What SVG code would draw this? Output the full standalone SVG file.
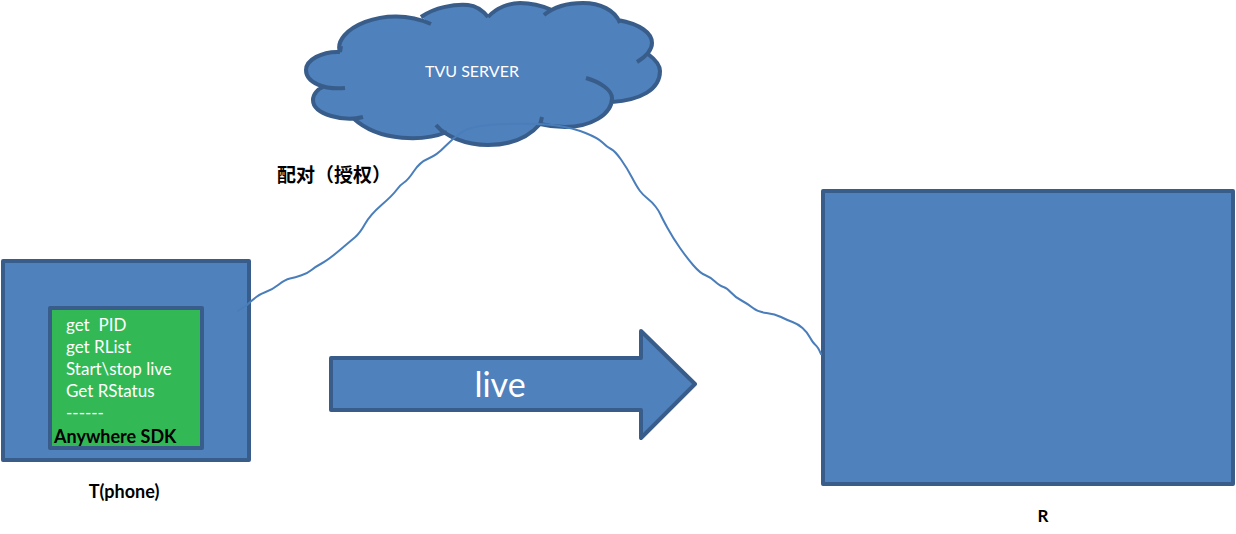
<svg xmlns="http://www.w3.org/2000/svg" width="1236" height="534" viewBox="0 0 1236 534">
<style>
.shape{fill:#4f81bd;stroke:#385d8a;stroke-width:4;stroke-linejoin:round}
.detail{fill:none;stroke:#385d8a;stroke-width:4}
.link{fill:none;stroke:#4a7ebb;stroke-width:2;stroke-linejoin:round;stroke-linecap:round}
text{font-family:Lato,"Open Sans","Liberation Sans",sans-serif}
.w{fill:#fff;font-size:17px;white-space:pre}
.b{fill:#000;font-weight:700;font-size:18px}
</style>
<rect width="1236" height="534" fill="#fff"/>
<g id="cloud">
<path fill="#4f81bd" d="M340,52C332,30 385,3 431,24L421,17C435,7 455,4 468,5C478,6 484,12 488,17C497,7 510,3 520,3C532,3 545,7 552,10L544,15C555,6 570,3 583,3C600,3 615,10 620,23L618,20C640,24 652,33 652,43C652,50 645,57 637,62L648,54C656,60 660,65 660,71C660,90 640,100 612,102L612,98C612,115 590,127 565,127C555,127 548,126 540,124C528,138 510,145 488,145C465,145 445,136 436,125L447,132C425,141 380,143 353,118L363,117C345,122 313,115 313,100C313,94 318,89 323,87L345,88C325,90 306,83 306,70C306,60 322,51 340,52Z"/>
<path class="detail" d="M340,52C332,30 385,3 431,24M421,17C435,7 455,4 468,5C478,6 484,12 488,17M488,17C497,7 510,3 520,3C532,3 545,7 552,10M544,15C555,6 570,3 583,3C600,3 615,10 620,23M618,20C640,24 652,33 652,43C652,50 645,57 637,62M648,54C656,60 660,65 660,71C660,90 640,100 612,102M586,78C600,82 612,90 612,98C612,115 590,127 565,127C555,127 548,126 540,124M542,117L540,125M540,124C528,138 510,145 488,145C465,145 445,136 436,125M447,132C425,141 380,143 353,118M363,117C345,122 313,115 313,100C313,94 318,89 323,87M345,88C325,90 306,83 306,70C306,60 322,51 340,52M340,52L341,46"/>
<text x="472" y="77" text-anchor="middle" fill="#fff" style="font-size:16px">TVU SERVER</text>
</g>
<g id="phone">
<rect class="shape" x="3" y="261" width="246" height="199"/>
<text class="b" x="124" y="498" text-anchor="middle">T(phone)</text>
</g>
<g id="sdk">
<rect x="50" y="308" width="152" height="140" fill="#32b955" stroke="#385d8a" stroke-width="4" stroke-linejoin="round"/>
<text class="w" x="66" y="331" xml:space="preserve">get  PID</text>
<text class="w" x="66" y="353">get RList</text>
<text class="w" x="66" y="375">Start\stop live</text>
<text class="w" x="66" y="397">Get RStatus</text>
<text class="w" x="66" y="419">------</text>
<text class="b" x="54" y="443">Anywhere SDK</text>
</g>
<g id="live-arrow">
<polygon class="shape" points="331,358 641,358 641,331 695,384 641,438 641,410 331,410"/>
<text x="500" y="397" text-anchor="middle" fill="#fff" font-size="34">live</text>
</g>
<g id="receiver">
<rect class="shape" x="823" y="191" width="410" height="293"/>
<text class="b" x="1043" y="522" text-anchor="middle" style="font-size:17px">R</text>
</g>
<g id="connectors">
<path class="link" d="M238,311L247,305Q257,295 264.500,292.500Q272,290 278.500,284.750Q285,279.500 290,278.500Q295,277.500 301.500,275.250Q308,273 311.500,270Q315,267 321.500,263.500Q328,260 339,250.750Q350,241.500 355,237.250Q360,233 365,224Q370,215 381.500,205Q393,195 396.500,190Q400,185 404,182.500Q408,180 414,171Q420,162 428.500,158.500Q437,155 445,146.500Q453,138 463,131.500Q473,125 506.500,124Q540,123 556.500,125.500Q573,128 585.500,133Q598,138 602.500,142.500Q607,147 611,149Q615,151 621,159.500Q627,168 632,177.500Q637,187 640,191Q643,195 647.500,198.500Q652,202 655.500,206.500Q659,211 660.500,214.500Q662,218 667.500,228Q673,238 680,248Q687,258 693.500,265.500Q700,273 705,275Q710,277 715,281.500Q720,286 723.500,287Q727,288 731,292.500Q735,297 741.500,300.500Q748,304 753,308Q758,312 766.500,313Q775,314 781,317Q787,320 792.500,322Q798,324 802.500,328Q807,332 810,337.500Q813,343 815.500,345Q818,347 821,354"/>
</g>
<g id="pairing-label">
<text x="277" y="182" fill="#000" font-size="19" font-weight="700" style="font-family:'Noto Sans CJK SC',sans-serif">配对（授权）</text>
</g>
</svg>
